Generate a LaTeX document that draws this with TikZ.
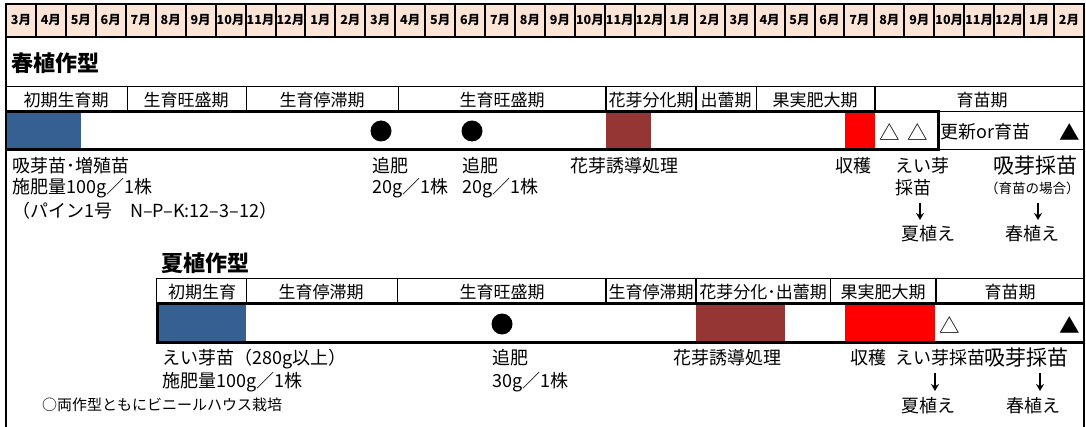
\documentclass[tikz,border=0pt]{standalone}
\usepackage{fontspec}
\usetikzlibrary{arrows.meta}
\newfontfamily\jp{Noto Sans CJK JP}
\definecolor{peach}{RGB}{252,228,214}
\definecolor{sblue}{RGB}{55,96,146}
\definecolor{dred}{RGB}{150,54,52}
\definecolor{bred}{RGB}{255,0,0}
\tikzset{
  mon/.style={font=\jp\bfseries\fontsize{12.5}{12.5}\selectfont, inner sep=0pt},
  stg/.style={font=\jp\fontsize{17}{17}\selectfont, inner sep=0pt},
  lbl/.style={font=\jp\fontsize{18}{18}\selectfont, anchor=west, inner sep=0pt},
  lblc/.style={font=\jp\fontsize{18}{18}\selectfont, inner sep=0pt},
  biglbl/.style={font=\jp\fontsize{21}{21}\selectfont, anchor=west, inner sep=0pt},
  smalllbl/.style={font=\jp\fontsize{13.5}{13.5}\selectfont, anchor=west, inner sep=0pt},
  notelbl/.style={font=\jp\fontsize{15}{15}\selectfont, anchor=west, inner sep=0pt},
  ttl/.style={font=\jp\bfseries\fontsize{22}{22}\selectfont, anchor=west, inner sep=0pt},
  sym/.style={font=\jp\fontsize{20.5}{20.5}\selectfont, inner sep=0pt},
  frameline/.style={line width=2pt, black},
  thinline/.style={line width=1pt, black},
  midline/.style={line width=1.4pt, black},
  heavyline/.style={line width=3pt, black},
  dotmark/.style={circle, fill=black, minimum size=21pt, inner sep=0pt},
  downarr/.style={line width=1.8pt, -{Stealth[length=7pt,width=8pt]}},
}
\begin{document}
\begin{tikzpicture}[x=1pt,y=-1pt]
\useasboundingbox (0,0) rectangle (1086,427);
\fill[white] (0,0) rectangle (1086,427);
% ---------- month header ----------
\fill[peach] (6,4) rectangle (1084,37);
\foreach \i in {0,...,35}{
  \pgfmathtruncatemacro\mm{mod(\i+2,12)+1}
  \node[mon] (m\i) at ({6+(\i+0.5)*29.944},20.5) {\mm 月};
}
\foreach \i in {0,...,36}{
  \draw[frameline] ({6+\i*29.944},4) -- ({6+\i*29.944},37);
}
\draw[frameline] (5,4) -- (1085,4);
\draw[frameline] (5,37) -- (1085,37);
% outer frame
\draw[frameline] (6,4) -- (6,427);
\draw[frameline] (1084,4) -- (1084,427);

% ---------- spring planting ----------
\node[ttl] (t1) at (11,63) {春植作型};
\draw[thinline] (6,87) -- (1084,87);
\foreach \xx in {127,246,398,756}{\draw[thinline] (\xx,87) -- (\xx,112);}
\foreach \xx in {606,696,875}{\draw[midline] (\xx,87) -- (\xx,112);}
\node[stg] (s1a) at (66,100) {初期生育期};
\node[stg] (s1b) at (186,100) {生育旺盛期};
\node[stg] (s1c) at (322,100) {生育停滞期};
\node[stg] (s1d) at (502,100) {生育旺盛期};
\node[stg] (s1e) at (651,100) {花芽分化期};
\node[stg] (s1f) at (726,100) {出蕾期};
\node[stg] (s1g) at (815,100) {果実肥大期};
\node[stg] (s1h) at (982,100) {育苗期};
% bar
\fill[sblue] (7,112) rectangle (81,150);
\fill[dred] (606,112) rectangle (651,150);
\fill[bred] (845,112) rectangle (875,150);
\draw[thinline] (938,112) -- (1084,112);
\draw[thinline] (938,150) -- (1084,150);
\draw[heavyline] (6,112) -- (938,112);
\draw[heavyline] (6,150) -- (938,150);
\draw[heavyline] (938,110.5) -- (938,151.5);
\node[dotmark] (d1a) at (381,131) {};
\node[dotmark] (d1b) at (472,131) {};
\node[sym] (tr1a) at (890,132) {△};
\node[sym] (tr1b) at (918,132) {△};
\node[lbl] (kos) at (940,132) {更新or育苗};
\node[sym] (tr1c) at (1070,132) {▲};
% labels
\node[lbl] (l1a) at (12,166) {吸芽苗･増殖苗};
\node[lbl] (l1b) at (12,188) {施肥量100g／1株};
\node[lbl] (l1c) at (12,211) {（パイン1号　N–P–K:12–3–12）};
\node[lbl] (l1d) at (372,166) {追肥};
\node[lbl] (l1e) at (372,188) {20g／1株};
\node[lbl] (l1f) at (462,166) {追肥};
\node[lbl] (l1g) at (462,188) {20g／1株};
\node[lbl] (l1h) at (570,166) {花芽誘導処理};
\node[lbl] (l1i) at (835,166) {収穫};
\node[lbl] (l1j) at (895,166) {えい芽};
\node[lbl] (l1k) at (895,188) {採苗};
\node[lblc] (l1l) at (928,234) {夏植え};
\node[biglbl] (l1m) at (993,166) {吸芽採苗};
\node[smalllbl] (l1n) at (985,188) {（育苗の場合）};
\node[lblc] (l1o) at (1032,234) {春植え};
\coordinate (a1s) at (920,203);
\coordinate (a1e) at (920,220);
\coordinate (a2s) at (1038,203);
\coordinate (a2e) at (1038,220);
\draw[downarr] (a1s) -- (a1e);
\draw[downarr] (a2s) -- (a2e);

% ---------- summer planting ----------
\node[ttl] (t2) at (161,263) {夏植作型};
\draw[thinline] (156,279) -- (1084,279);
\draw[thinline] (156,279) -- (156,304);
\foreach \xx in {246,397,830}{\draw[thinline] (\xx,279) -- (\xx,304);}
\foreach \xx in {606,696,936}{\draw[midline] (\xx,279) -- (\xx,304);}
\node[stg] (s2a) at (202,292) {初期生育};
\node[stg] (s2b) at (321,292) {生育停滞期};
\node[stg] (s2c) at (502,292) {生育旺盛期};
\node[stg] (s2d) at (651,292) {生育停滞期};
\node[stg] (s2e) at (763,292) {花芽分化･出蕾期};
\node[stg] (s2f) at (883,292) {果実肥大期};
\node[stg] (s2g) at (1010,292) {育苗期};
% bar
\fill[sblue] (157,304) rectangle (246,342);
\fill[dred] (696,304) rectangle (785,342);
\fill[bred] (845,304) rectangle (935,342);
\draw[heavyline] (156,304) -- (1084,304);
\draw[heavyline] (156,342) -- (1084,342);
\draw[heavyline] (157.5,302.5) -- (157.5,343.5);
\node[dotmark] (d2a) at (502,324) {};
\node[sym] (tr2a) at (950,325) {△};
\node[sym] (tr2b) at (1070,325) {▲};
% labels
\node[lbl] (l2a) at (162,359) {えい芽苗（280g以上）};
\node[lbl] (l2b) at (162,382) {施肥量100g／1株};
\node[notelbl] (l2c) at (42,405) {○両作型ともにビニールハウス栽培};
\node[lbl] (l2d) at (492,358) {追肥};
\node[lbl] (l2e) at (492,382) {30g／1株};
\node[lbl] (l2f) at (673,358) {花芽誘導処理};
\node[lbl] (l2g) at (850,358) {収穫};
\node[lbl] (l2h) at (895,358) {えい芽採苗};
\node[biglbl] (l2i) at (984,358) {吸芽採苗};
\node[lblc] (l2j) at (928,406) {夏植え};
\node[lblc] (l2k) at (1033,406) {春植え};
\coordinate (b1s) at (935,373);
\coordinate (b1e) at (935,391);
\coordinate (b2s) at (1040,373);
\coordinate (b2e) at (1040,391);
\draw[downarr] (b1s) -- (b1e);
\draw[downarr] (b2s) -- (b2e);
\end{tikzpicture}
\end{document}
